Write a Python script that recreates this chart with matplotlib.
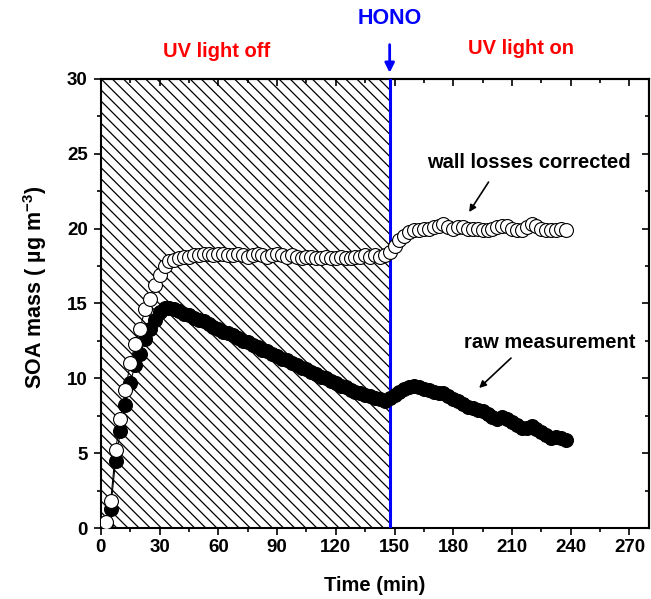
import matplotlib
matplotlib.use('Agg')
from matplotlib import pyplot as plt
from matplotlib.ticker import MultipleLocator

plt.rcParams['font.family'] = ['Liberation Sans', 'DejaVu Sans']
plt.rcParams['font.weight'] = 'bold'
plt.rcParams['mathtext.fontset'] = 'custom'
plt.rcParams['mathtext.bf'] = 'Liberation Sans:bold'
plt.rcParams['mathtext.rm'] = 'Liberation Sans:bold'
plt.rcParams['mathtext.default'] = 'bf'
plt.rcParams['hatch.linewidth'] = 0.9
plt.rcParams['axes.linewidth'] = 1.5

# time (min)
t = [2.5, 5, 7.5, 10, 12.5, 15, 17.5, 20, 22.5, 25, 27.5, 30, 32.5, 35, 37.5,
     40, 42.5, 45, 47.5, 50, 52.5, 55, 57.5, 60, 62.5, 65, 67.5, 70, 72.5, 75,
     77.5, 80, 82.5, 85, 87.5, 90, 92.5, 95, 97.5, 100, 102.5, 105, 107.5, 110,
     112.5, 115, 117.5, 120, 122.5, 125, 127.5, 130, 132.5, 135, 137.5, 140,
     142.5, 145, 147.5, 150, 152.5, 155, 157.5, 160, 162.5, 165, 167.5, 170,
     172.5, 175, 177.5, 180, 182.5, 185, 187.5, 190, 192.5, 195, 197.5, 200,
     202.5, 205, 207.5, 210, 212.5, 215, 217.5, 220, 222.5, 225, 227.5, 230,
     232.5, 235, 237.5]

# SOA mass, wall losses corrected (open circles)
corrected = [0.4, 1.8, 5.2, 7.3, 9.2, 11.0, 12.3, 13.3, 14.6, 15.3, 16.2, 16.9,
             17.5, 17.8, 17.9, 18.0, 18.1, 18.1, 18.2, 18.2, 18.3, 18.3, 18.2,
             18.3, 18.3, 18.2, 18.2, 18.3, 18.2, 18.1, 18.2, 18.3, 18.2, 18.1,
             18.2, 18.3, 18.2, 18.1, 18.2, 18.1, 18.0, 18.1, 18.1, 18.0, 18.0,
             18.1, 18.0, 18.0, 18.1, 18.0, 18.0, 18.1, 18.1, 18.2, 18.1, 18.2,
             18.1, 18.2, 18.4, 18.8, 19.2, 19.5, 19.8, 19.9, 19.9, 20.0, 20.0,
             20.1, 20.2, 20.3, 20.1, 20.0, 20.1, 20.1, 20.0, 20.0, 20.0, 19.9,
             19.9, 20.0, 20.1, 20.2, 20.2, 20.0, 19.9, 19.9, 20.1, 20.3, 20.2,
             20.0, 19.9, 19.9, 19.9, 20.0, 19.9]

# SOA mass, raw measurement (filled circles)
raw = [0.3, 1.3, 4.5, 6.5, 8.2, 9.7, 10.9, 11.6, 12.6, 13.3, 13.9, 14.4, 14.7,
       14.7, 14.6, 14.5, 14.3, 14.2, 14.0, 13.9, 13.8, 13.6, 13.4, 13.3, 13.1,
       13.0, 12.9, 12.7, 12.5, 12.4, 12.2, 12.1, 11.9, 11.8, 11.6, 11.5, 11.3,
       11.2, 11.0, 10.9, 10.7, 10.6, 10.4, 10.3, 10.1, 10.0, 9.8, 9.7, 9.5, 9.4,
       9.2, 9.1, 9.0, 8.9, 8.8, 8.7, 8.6, 8.5, 8.7, 8.9, 9.1, 9.3, 9.4, 9.5,
       9.4, 9.3, 9.2, 9.1, 9.0, 9.0, 8.8, 8.6, 8.5, 8.3, 8.1, 8.0, 7.9, 7.8,
       7.6, 7.4, 7.3, 7.4, 7.3, 7.1, 6.9, 6.7, 6.7, 6.8, 6.6, 6.4, 6.2, 6.0,
       6.1, 6.0, 5.9]

t_hono = 147.5

fig = plt.figure(figsize=(6.51, 5.99), dpi=100)
ax = fig.add_axes([0.155, 0.1185, 0.842, 0.75])

# dark period, hatched
ax.axvspan(0, t_hono, facecolor='white', edgecolor='black', hatch='\\\\\\',
           linewidth=0, zorder=0)
ax.axvline(t_hono, color='#0000ff', lw=2.2, zorder=3)

ax.plot(t, raw, '-o', color='black', lw=0.8, ms=10, mfc='black', mec='black',
        mew=0.8, zorder=4)
ax.plot(t, corrected, '-o', color='black', lw=0.8, ms=10, mfc='white',
        mec='black', mew=0.8, zorder=5)

ax.set_xlim(0, 280)
ax.set_ylim(0, 30)
ax.xaxis.set_major_locator(MultipleLocator(30))
ax.xaxis.set_minor_locator(MultipleLocator(15))
ax.yaxis.set_major_locator(MultipleLocator(5))
ax.yaxis.set_minor_locator(MultipleLocator(2.5))
ax.tick_params(which='major', direction='out', length=5, width=1.2,
               labelsize=13.5, pad=3)
ax.tick_params(axis='y', which='major', pad=4.5)
ax.tick_params(which='minor', direction='out', length=3, width=1.2)

# inward ticks on top and right
top = ax.secondary_xaxis('top')
top.xaxis.set_major_locator(MultipleLocator(30))
top.xaxis.set_minor_locator(MultipleLocator(15))
top.tick_params(which='major', direction='in', length=5, width=1.2,
                labeltop=False)
top.tick_params(which='minor', direction='in', length=3, width=1.2)
right = ax.secondary_yaxis('right')
right.yaxis.set_major_locator(MultipleLocator(5))
right.yaxis.set_minor_locator(MultipleLocator(2.5))
right.tick_params(which='major', direction='in', length=5, width=1.2,
                  labelright=False)
right.tick_params(which='minor', direction='in', length=3, width=1.2)

ax.set_xlabel('Time (min)', fontsize=14.5, fontweight='bold', labelpad=14)
ax.set_ylabel('SOA mass ( µg m$^{-3}$)', fontsize=15.5, fontweight='bold')
ax.yaxis.set_label_coords(-0.095, 0.535)

ax.text(59.0, 31.85, 'UV light off', color='#ff0000', fontsize=14.5,
        fontweight='bold', ha='center', va='center', clip_on=False)
ax.text(214.8, 32.05, 'UV light on', color='#ff0000', fontsize=14.5,
        fontweight='bold', ha='center', va='center', clip_on=False)
ax.annotate('HONO', xy=(t_hono, 30.4), xytext=(t_hono, 34.0),
            ha='center', va='center', color='#0000ff', fontsize=15.5,
            fontweight='bold', annotation_clip=False,
            arrowprops=dict(arrowstyle='-|>', color='#0000ff', lw=2,
                            mutation_scale=14, shrinkA=9, shrinkB=0))

ax.text(218.4, 24.4, 'wall losses corrected', fontsize=14.5, fontweight='bold',
        ha='center', va='center')
ax.annotate('', xy=(188.1, 21.1), xytext=(198.0, 23.1),
            arrowprops=dict(arrowstyle='-|>', color='black', lw=1.2,
                            mutation_scale=10, shrinkA=0, shrinkB=0))
ax.text(229.0, 12.42, 'raw measurement', fontsize=14.5, fontweight='bold',
        ha='center', va='center')
ax.annotate('', xy=(193.2, 9.35), xytext=(209.5, 11.35),
            arrowprops=dict(arrowstyle='-|>', color='black', lw=1.2,
                            mutation_scale=10, shrinkA=0, shrinkB=0))

fig.savefig('out.png', dpi=100)
